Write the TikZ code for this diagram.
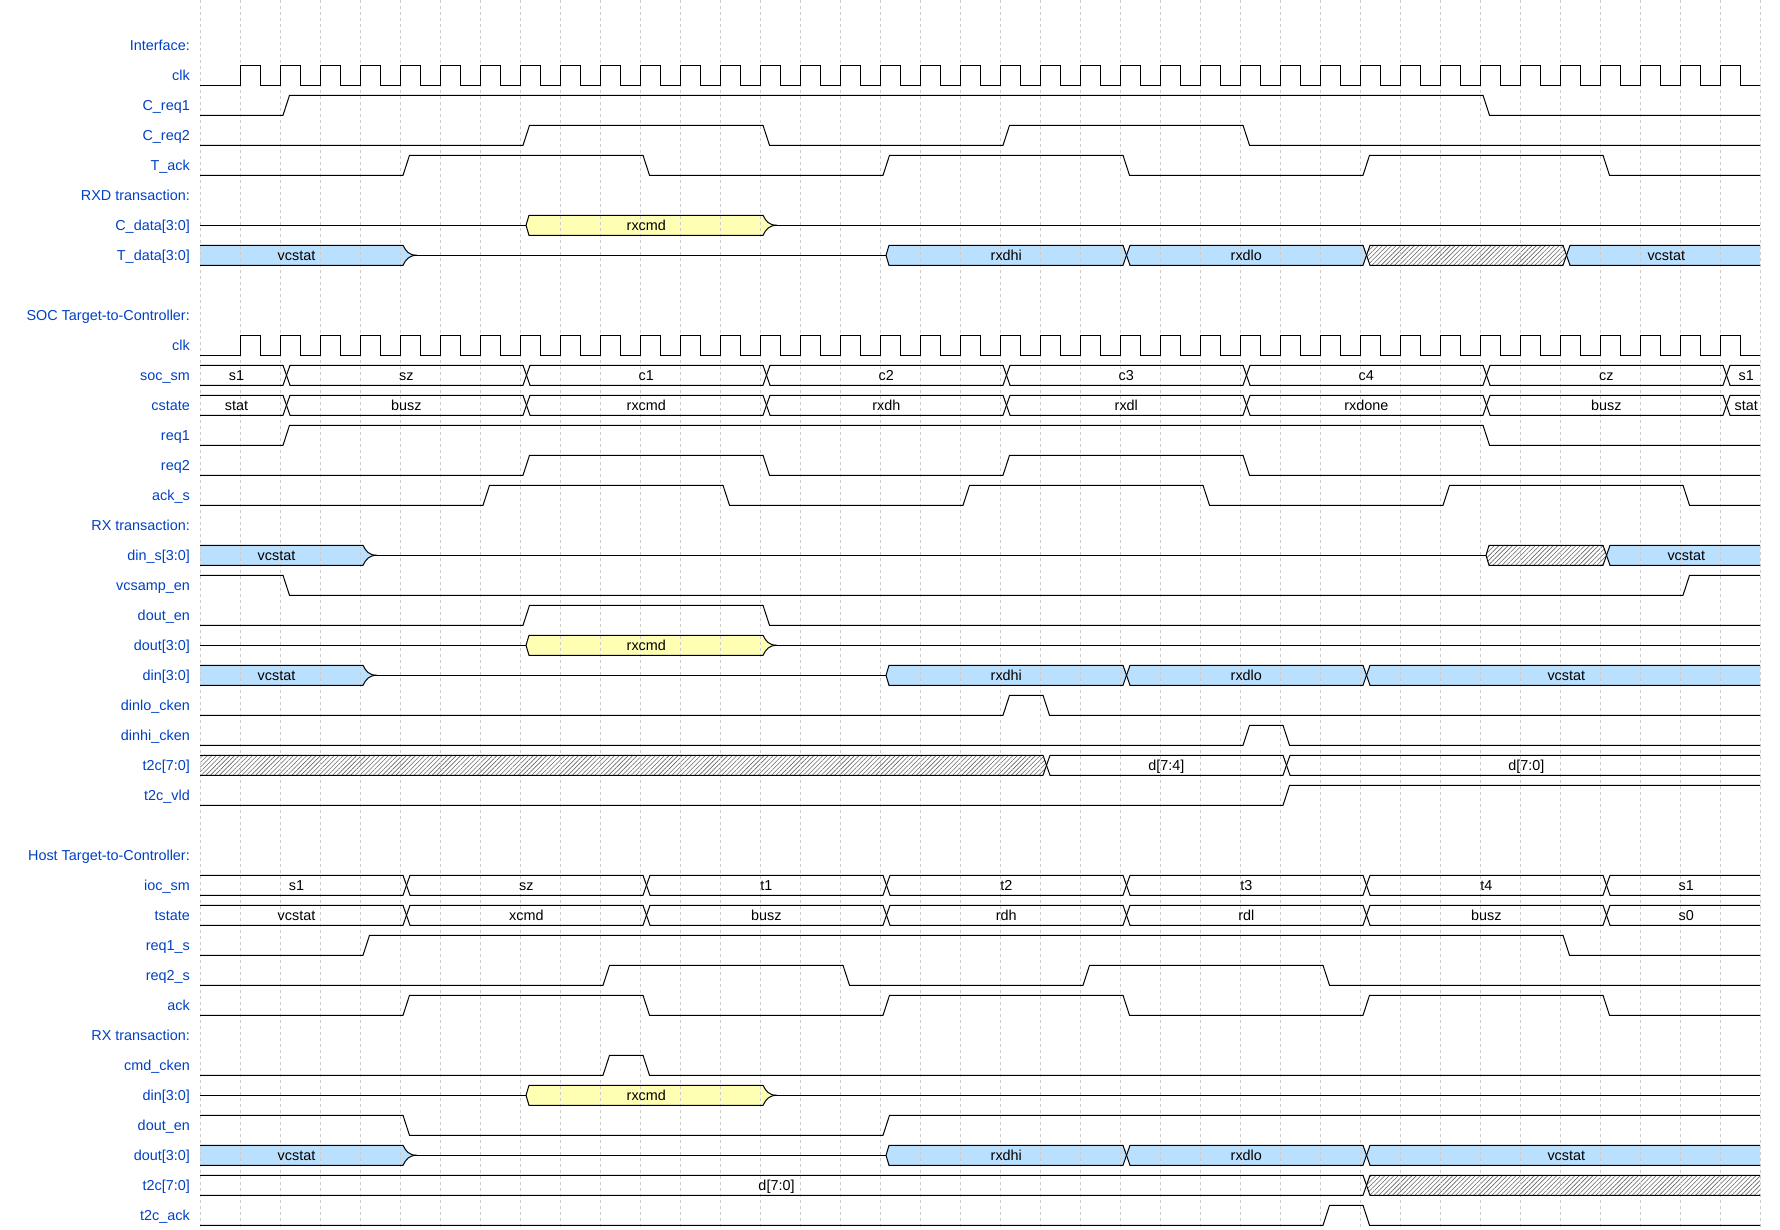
\documentclass[tikz,border=0pt]{standalone}
\usepackage{fontspec}
\setmainfont{Liberation Sans}
\usetikzlibrary{patterns.meta}
\definecolor{labblue}{HTML}{0041C4}
\definecolor{busblue}{HTML}{B9E0FF}
\definecolor{busyel}{HTML}{FFFFB4}
\pgfdeclarelayer{back}
\pgfdeclarelayer{bg}
\pgfdeclarelayer{gridl}
\pgfsetlayers{back,bg,gridl,main}
\tikzset{
  sig/.style={line width=1pt, line join=miter, black},
  gridline/.style={black!20, line width=0.8pt, dash pattern=on 3pt off 3pt},
  lab/.style={anchor=base east, inner sep=0pt, text=labblue, font=\fontsize{14.4pt}{17pt}\selectfont},
  btxt/.style={anchor=base, inner sep=0pt, text=black, font=\fontsize{14.4pt}{17pt}\selectfont},
  fwhite/.style={fill=white},
  fblue/.style={fill=busblue},
  fyel/.style={fill=busyel},
  fhatch/.style={pattern={Lines[angle=45,distance=3.2pt,line width=0.6pt]}, pattern color=black!60},
}
% row geometry
\newcommand\wdrow[1]{\pgfmathsetmacro\wyc{45.3+30*#1}\pgfmathsetmacro\wyt{\wyc-10}\pgfmathsetmacro\wyb{\wyc+10}}
% clock
\newcommand\wdclock[1]{\wdrow{#1}%
  \draw[sig] (200,\wyb) \foreach \wn in {1,...,38}{ -- ({200+40*\wn},\wyb) -- ({200+40*\wn},\wyt) -- ({220+40*\wn},\wyt) -- ({220+40*\wn},\wyb)} -- (1760,\wyb);}
% digital signal: row, initial level, toggle periods
\newcommand\wddigi[3]{\wdrow{#1}%
  \ifnum#2=1 \xdef\wdcur{\wyt}\xdef\wdoth{\wyb}\else\xdef\wdcur{\wyb}\xdef\wdoth{\wyt}\fi
  \xdef\wdpth{(200,\wdcur)}%
  \foreach \wdt in {#3}{%
    \pgfmathsetmacro\wxa{200+40*\wdt+3}\pgfmathsetmacro\wxb{200+40*\wdt+9.5}%
    \xdef\wdpth{\wdpth -- (\wxa,\wdcur) -- (\wxb,\wdoth)}%
    \global\let\wdtmp\wdcur \global\let\wdcur\wdoth \global\let\wdoth\wdtmp
  }%
  \draw[sig] \wdpth -- (1760,\wdcur);}
% high-impedance line: row, start, end, left kind (b/d), right kind (b/d)
\newcommand\wdz[5]{\wdrow{#1}%
  \if b#4\def\wdoa{0}\else\def\wdoa{17}\fi
  \if b#5\def\wdob{0}\else\def\wdob{6}\fi
  \draw[sig] ({200+40*#2+\wdoa},\wyc) -- ({200+40*#3+\wdob},\wyc);}
% edge kinds
\def\wdLb{\def\wdtx{-3.5}\def\wdLT{(\wxs,\wyt)}\def\wdLB{(\wxs,\wyb)}\def\wdLBrev{-- (\wxs,\wyb)}}
\def\wdLz{\def\wdtx{6.3}\def\wdLT{(\wxs+6,\wyc) -- (\wxs+9,\wyt)}\def\wdLB{(\wxs+6,\wyc) -- (\wxs+9,\wyb)}\def\wdLBrev{-- (\wxs+9,\wyb) -- (\wxs+6,\wyc)}}
\def\wdLd{\def\wdtx{6.3}\def\wdLT{(\wxs+6.5,\wyc) -- (\wxs+10,\wyt)}\def\wdLB{(\wxs+6.5,\wyc) -- (\wxs+10,\wyb)}\def\wdLBrev{-- (\wxs+10,\wyb) -- (\wxs+6.5,\wyc)}}
\def\wdRb{\def\wdRT{-- (\wxe,\wyt)}\def\wdRB{-- (\wxe,\wyb)}\def\wdRBrev{-- (\wxe,\wyb)}}
\def\wdRz{\def\wdRT{-- (\wxe+3,\wyt) .. controls (\wxe+6,\wyt+6) and (\wxe+9,\wyc) .. (\wxe+17,\wyc)}\def\wdRB{-- (\wxe+3,\wyb) .. controls (\wxe+6,\wyb-6) and (\wxe+9,\wyc) .. (\wxe+17,\wyc)}\def\wdRBrev{.. controls (\wxe+9,\wyc) and (\wxe+6,\wyb-6) .. (\wxe+3,\wyb)}}
\def\wdRd{\def\wdRT{-- (\wxe+3,\wyt) -- (\wxe+6.5,\wyc)}\def\wdRB{-- (\wxe+3,\wyb) -- (\wxe+6.5,\wyc)}\def\wdRBrev{-- (\wxe+3,\wyb)}}
% bus segment: row, fill style, start, end, left kind, right kind, text
\newcommand\wdbus[7]{\wdrow{#1}%
  \pgfmathsetmacro\wxs{200+40*#3}\pgfmathsetmacro\wxe{200+40*#4}%
  \csname wdL#5\endcsname\csname wdR#6\endcsname
  \begin{pgfonlayer}{bg}\fill[#2] \wdLT \wdRT \wdRBrev \wdLBrev -- cycle;\end{pgfonlayer}
  \draw[sig] \wdLT \wdRT;
  \draw[sig] \wdLB \wdRB;
  \node[btxt] (b#1-#3) at ({(\wxs+\wxe)/2+\wdtx},\wyc+5.5) {#7};}
\newcommand\wdlab[2]{\node[lab] (lab#1) at (190,{45.3+30*#1+5.5}) {#2};}
\begin{document}
\begin{tikzpicture}[x=1pt,y=-1pt]
\useasboundingbox (0,0) rectangle (1780,1230);
\begin{pgfonlayer}{back}\fill[white] (0,0) rectangle (1780,1230);\end{pgfonlayer}
\begin{pgfonlayer}{gridl}
\foreach \gn in {0,...,39} \draw[gridline] ({200+40*\gn},0) -- ({200+40*\gn},1230);
\end{pgfonlayer}
% labels
\wdlab{0}{Interface:}
\wdlab{1}{clk}
\wdlab{2}{C\_req1}
\wdlab{3}{C\_req2}
\wdlab{4}{T\_ack}
\wdlab{5}{RXD transaction:}
\wdlab{6}{C\_data[3:0]}
\wdlab{7}{T\_data[3:0]}
\wdlab{9}{SOC Target-to-Controller:}
\wdlab{10}{clk}
\wdlab{11}{soc\_sm}
\wdlab{12}{cstate}
\wdlab{13}{req1}
\wdlab{14}{req2}
\wdlab{15}{ack\_s}
\wdlab{16}{RX transaction:}
\wdlab{17}{din\_s[3:0]}
\wdlab{18}{vcsamp\_en}
\wdlab{19}{dout\_en}
\wdlab{20}{dout[3:0]}
\wdlab{21}{din[3:0]}
\wdlab{22}{dinlo\_cken}
\wdlab{23}{dinhi\_cken}
\wdlab{24}{t2c[7:0]}
\wdlab{25}{t2c\_vld}
\wdlab{27}{Host Target-to-Controller:}
\wdlab{28}{ioc\_sm}
\wdlab{29}{tstate}
\wdlab{30}{req1\_s}
\wdlab{31}{req2\_s}
\wdlab{32}{ack}
\wdlab{33}{RX transaction:}
\wdlab{34}{cmd\_cken}
\wdlab{35}{din[3:0]}
\wdlab{36}{dout\_en}
\wdlab{37}{dout[3:0]}
\wdlab{38}{t2c[7:0]}
\wdlab{39}{t2c\_ack}
% clocks
\wdclock{1}
\wdclock{10}
% digital signals
\wddigi{2}{0}{2,32}
\wddigi{3}{0}{8,14,20,26}
\wddigi{4}{0}{5,11,17,23,29,35}
\wddigi{13}{0}{2,32}
\wddigi{14}{0}{8,14,20,26}
\wddigi{15}{0}{7,13,19,25,31,37}
\wddigi{18}{1}{2,37}
\wddigi{19}{0}{8,14}
\wddigi{22}{0}{20,21}
\wddigi{23}{0}{26,27}
\wddigi{25}{0}{27}
\wddigi{30}{0}{4,34}
\wddigi{31}{0}{10,16,22,28}
\wddigi{32}{0}{5,11,17,23,29,35}
\wddigi{34}{0}{10,11}
\wddigi{36}{1}{5,17}
\wddigi{39}{0}{28,29}
% C_data
\wdz{6}{0}{8}{b}{d}
\wdbus{6}{fyel}{8}{14}{z}{z}{rxcmd}
\wdz{6}{14}{39}{d}{b}
% T_data
\wdbus{7}{fblue}{0}{5}{b}{z}{vcstat}
\wdz{7}{5}{17}{d}{d}
\wdbus{7}{fblue}{17}{23}{z}{d}{rxdhi}
\wdbus{7}{fblue}{23}{29}{d}{d}{rxdlo}
\wdbus{7}{fhatch}{29}{34}{d}{d}{}
\wdbus{7}{fblue}{34}{39}{d}{b}{vcstat}
% soc_sm
\wdbus{11}{fwhite}{0}{2}{b}{d}{s1}
\wdbus{11}{fwhite}{2}{8}{d}{d}{sz}
\wdbus{11}{fwhite}{8}{14}{d}{d}{c1}
\wdbus{11}{fwhite}{14}{20}{d}{d}{c2}
\wdbus{11}{fwhite}{20}{26}{d}{d}{c3}
\wdbus{11}{fwhite}{26}{32}{d}{d}{c4}
\wdbus{11}{fwhite}{32}{38}{d}{d}{cz}
\wdbus{11}{fwhite}{38}{39}{d}{b}{s1}
% cstate
\wdbus{12}{fwhite}{0}{2}{b}{d}{stat}
\wdbus{12}{fwhite}{2}{8}{d}{d}{busz}
\wdbus{12}{fwhite}{8}{14}{d}{d}{rxcmd}
\wdbus{12}{fwhite}{14}{20}{d}{d}{rxdh}
\wdbus{12}{fwhite}{20}{26}{d}{d}{rxdl}
\wdbus{12}{fwhite}{26}{32}{d}{d}{rxdone}
\wdbus{12}{fwhite}{32}{38}{d}{d}{busz}
\wdbus{12}{fwhite}{38}{39}{d}{b}{stat}
% din_s
\wdbus{17}{fblue}{0}{4}{b}{z}{vcstat}
\wdz{17}{4}{32}{d}{d}
\wdbus{17}{fhatch}{32}{35}{z}{d}{}
\wdbus{17}{fblue}{35}{39}{d}{b}{vcstat}
% dout (SOC)
\wdz{20}{0}{8}{b}{d}
\wdbus{20}{fyel}{8}{14}{z}{z}{rxcmd}
\wdz{20}{14}{39}{d}{b}
% din (SOC)
\wdbus{21}{fblue}{0}{4}{b}{z}{vcstat}
\wdz{21}{4}{17}{d}{d}
\wdbus{21}{fblue}{17}{23}{z}{d}{rxdhi}
\wdbus{21}{fblue}{23}{29}{d}{d}{rxdlo}
\wdbus{21}{fblue}{29}{39}{d}{b}{vcstat}
% t2c (SOC)
\wdbus{24}{fhatch}{0}{21}{b}{d}{}
\wdbus{24}{fwhite}{21}{27}{d}{d}{d[7:4]}
\wdbus{24}{fwhite}{27}{39}{d}{b}{d[7:0]}
% ioc_sm
\wdbus{28}{fwhite}{0}{5}{b}{d}{s1}
\wdbus{28}{fwhite}{5}{11}{d}{d}{sz}
\wdbus{28}{fwhite}{11}{17}{d}{d}{t1}
\wdbus{28}{fwhite}{17}{23}{d}{d}{t2}
\wdbus{28}{fwhite}{23}{29}{d}{d}{t3}
\wdbus{28}{fwhite}{29}{35}{d}{d}{t4}
\wdbus{28}{fwhite}{35}{39}{d}{b}{s1}
% tstate
\wdbus{29}{fwhite}{0}{5}{b}{d}{vcstat}
\wdbus{29}{fwhite}{5}{11}{d}{d}{xcmd}
\wdbus{29}{fwhite}{11}{17}{d}{d}{busz}
\wdbus{29}{fwhite}{17}{23}{d}{d}{rdh}
\wdbus{29}{fwhite}{23}{29}{d}{d}{rdl}
\wdbus{29}{fwhite}{29}{35}{d}{d}{busz}
\wdbus{29}{fwhite}{35}{39}{d}{b}{s0}
% din (Host)
\wdz{35}{0}{8}{b}{d}
\wdbus{35}{fyel}{8}{14}{z}{z}{rxcmd}
\wdz{35}{14}{39}{d}{b}
% dout (Host)
\wdbus{37}{fblue}{0}{5}{b}{z}{vcstat}
\wdz{37}{5}{17}{d}{d}
\wdbus{37}{fblue}{17}{23}{z}{d}{rxdhi}
\wdbus{37}{fblue}{23}{29}{d}{d}{rxdlo}
\wdbus{37}{fblue}{29}{39}{d}{b}{vcstat}
% t2c (Host)
\wdbus{38}{fwhite}{0}{29}{b}{d}{d[7:0]}
\wdbus{38}{fhatch}{29}{39}{d}{b}{}
\end{tikzpicture}
\end{document}
